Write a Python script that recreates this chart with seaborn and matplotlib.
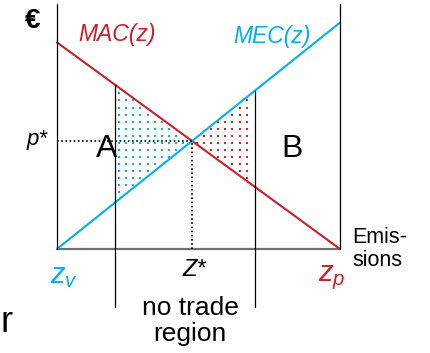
import matplotlib
matplotlib.use("Agg")
from matplotlib import pyplot as plt
import numpy as np
import pandas as pd
import seaborn as sns

# ----------------------------- data
z = [0, 10]                 # z_v .. z_p
mac = [7.3, 0.0]            # marginal abatement cost
mec = [0.0, 8.0]            # marginal external cost
no_trade = [2.05, 7.0]      # bounds of the no trade region
axis_top = 8.66

RED = "#cc1f27"
BLUE = "#00b0f0"

sns.set_style("white")
plt.rcParams['font.family'] = ['Liberation Sans', 'DejaVu Sans']
plt.rcParams['text.color'] = 'black'
plt.rcParams['mathtext.fontset'] = 'custom'
plt.rcParams['mathtext.rm'] = 'Liberation Sans'
plt.rcParams['mathtext.it'] = 'Liberation Sans:italic'

# pixel helpers (figure is drawn on one full-size axes)
u = 28.3
def P(px, py):
    return (px - 57) / u, (249 - py) / u

fig = plt.figure(figsize=(4.3, 3.53), dpi=100)
ax = fig.add_axes([0, 0, 1, 1])
ax.set_xlim(-57 / u, (430 - 57) / u)
ax.set_ylim((249 - 353) / u, 249 / u)
ax.axis('off')

df = pd.DataFrame({'z': z, 'MAC': mac, 'MEC': mec})
sns.lineplot(data=df, x='z', y='MAC', color=RED, lw=1.5, ax=ax)
sns.lineplot(data=df, x='z', y='MEC', color=BLUE, lw=1.5, ax=ax)

def mac_at(x):
    return np.interp(x, z, mac)

def mec_at(x):
    return np.interp(x, z, mec)

# intersection
zs = mac[0] / ((mac[0] - mac[1]) / (z[1] - z[0]) + (mec[1] - mec[0]) / (z[1] - z[0]))
ps = mec_at(zs)

# axes
ax.plot([z[0], z[0]], [0, axis_top], color='black', lw=0.9)
ax.plot([z[1], z[1]], [0, axis_top], color='black', lw=0.9)
ax.plot([z[0], z[1]], [0, 0], color='#707070', lw=1.6, zorder=1)

# dotted guides
ax.plot([z[0], zs], [ps, ps], color='black', lw=1.2, ls=(0, (1, 1.5)))
ax.plot([zs, zs], [0, ps], color='black', lw=1.2, ls=(0, (1, 1.5)))

# no trade region boundaries
ax.plot([no_trade[0]] * 2, [-2.05, mac_at(no_trade[0])], color='black', lw=0.9)
ax.plot([no_trade[1]] * 2, [-2.05, mec_at(no_trade[1])], color='black', lw=0.9)

# dotted areas
gx = np.arange(0.2, 10, 0.25)
gy = np.arange(0.25, 9, 0.25)
GX, GY = np.meshgrid(gx, gy)
GX, GY = GX.ravel(), GY.ravel()
m = 0.06
blue = (GX > no_trade[0] + m) & (GX < zs) & (GY < mac_at(GX) - m) & (GY > mec_at(GX) + m)
red = (GX > zs) & (GX < no_trade[1] - m) & (GY > mac_at(GX) + m) & (GY < mec_at(GX) - m)
ax.scatter(GX[blue], GY[blue], marker='|', s=3, lw=1.4, color=BLUE)
ax.scatter(GX[red], GY[red], marker='|', s=3, lw=1.4, color=RED)

# labels
ax.text(*P(33, 21), "€", fontsize=20, fontweight='bold', ha='center', va='center')
ax.text(*P(117, 35), "MAC(z)", fontsize=16.5, style='italic', color=RED, ha='center', va='center')
ax.text(*P(272, 37), "MEC(z)", fontsize=16.5, style='italic', color=BLUE, ha='center', va='center')
ax.text(*P(37, 139), "p*", fontsize=16, style='italic', ha='center', va='center')
ax.text(*P(107, 149), "A", fontsize=23, ha='center', va='center')
ax.text(*P(292, 149), "B", fontsize=23, ha='center', va='center')
ax.text(*P(194, 270), "Z*", fontsize=17, style='italic', ha='center', va='center')
ax.text(*P(190, 321), "no trade\nregion", fontsize=19, ha='center', va='center', linespacing=1.15)
ax.text(*P(64, 276), r"$z_v$", fontsize=21, color=BLUE, ha='center', va='center')
ax.text(*P(332, 278), r"$z_p$", fontsize=21, color=RED, ha='center', va='center')
ax.text(*P(352, 249), "Emis-\nsions", fontsize=15.5, ha='left', va='center', linespacing=1.1)
ax.text(*P(0.5, 322), "r", fontsize=26, ha='left', va='center')

path = "out.png"
plt.savefig(path, dpi=100)
print(f"Saved figure to {path}.")
plt.close()
